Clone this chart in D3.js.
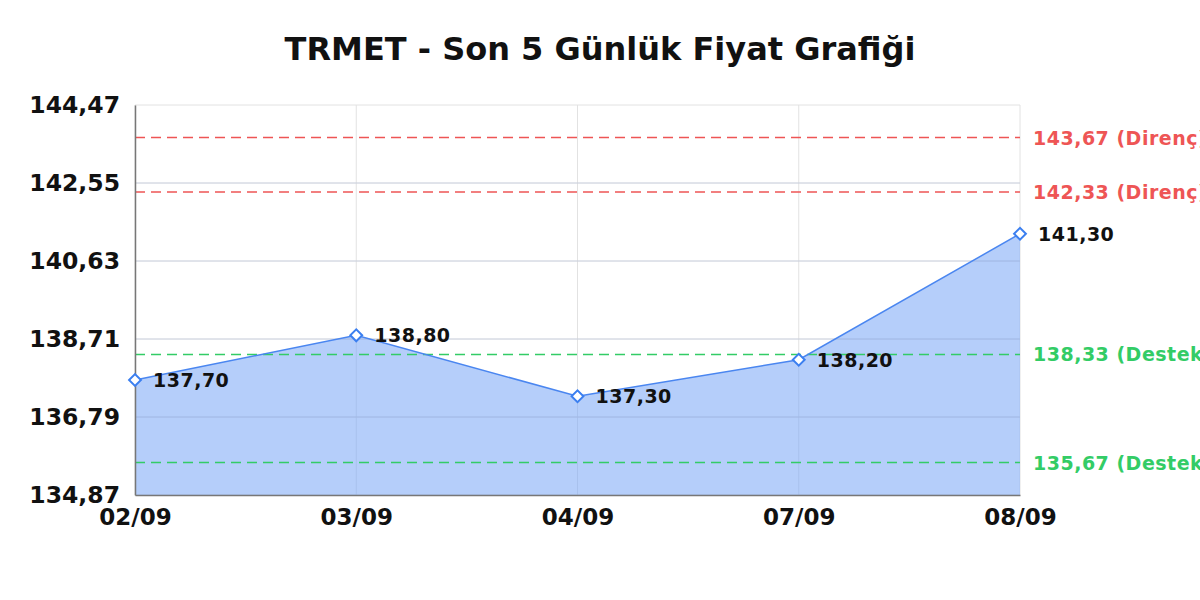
<!DOCTYPE html>
<html><head><meta charset="utf-8">
<script src="https://cdn.jsdelivr.net/npm/d3@7"></script>
<style>body{margin:0;background:#fff;}svg{display:block;font-family:"DejaVu Sans",sans-serif;}</style>
</head><body><svg id="c" width="1200" height="600"></svg>
<script>
const title = "TRMET - Son 5 Günlük Fiyat Grafiği";
const dates = ["02/09","03/09","04/09","07/09","08/09"];
const prices = [137.70,138.80,137.30,138.20,141.30];
const yTicks = [134.87,136.79,138.71,140.63,142.55,144.47];
const resistance = [143.67,142.33];
const support = [138.33,135.67];

const fmt = v => v.toFixed(2).replace(".", ",");
const svg = d3.select("#c");
const L=135,R=1020,T=105,B=495;
const x = d3.scalePoint().domain(dates).range([L,R]);
const y = d3.scaleLinear().domain([yTicks[0], yTicks[yTicks.length-1]]).range([B,T]);

svg.append("text").attr("x",600).attr("y",60).attr("text-anchor","middle")
  .attr("font-size",32).attr("font-weight","bold").attr("fill","#111").text(title);

// grid
const grid = svg.append("g");
grid.selectAll(".hg").data(yTicks).join("line")
  .attr("x1",L).attr("x2",R).attr("y1",d=>y(d)).attr("y2",d=>y(d))
  .attr("stroke","#e2e2e2").attr("stroke-width",1);
grid.selectAll(".vg").data(dates).join("line")
  .attr("x1",d=>x(d)).attr("x2",d=>x(d)).attr("y1",T).attr("y2",B)
  .attr("stroke","#e2e2e2").attr("stroke-width",1);

const pts = dates.map((d,i)=>({d, v:prices[i]}));
svg.append("path").datum(pts)
  .attr("d", d3.area().x(p=>x(p.d)).y0(B).y1(p=>y(p.v)))
  .attr("fill","rgba(120,165,245,0.55)");

// grid over area (faint)
svg.append("g").selectAll("line").data(yTicks.slice(1,-1)).join("line")
  .attr("x1",L).attr("x2",R).attr("y1",d=>y(d)).attr("y2",d=>y(d))
  .attr("stroke","rgba(150,170,210,0.35)");

// reference lines
const refs = resistance.map(v=>({v,c:"#ee5555",t:"Direnç"})).concat(support.map(v=>({v,c:"#33cc66",t:"Destek"})));
const rg = svg.append("g");
rg.selectAll("line").data(refs).join("line")
  .attr("x1",L).attr("x2",R).attr("y1",d=>y(d.v)).attr("y2",d=>y(d.v))
  .attr("stroke",d=>d.c).attr("stroke-width",1.5).attr("stroke-dasharray","10,6");
rg.selectAll("text").data(refs).join("text")
  .attr("x",1033).attr("y",d=>y(d.v)+7).attr("font-size",19).attr("font-weight","bold")
  .attr("letter-spacing",0.5)
  .attr("fill",d=>d.c).text(d=>`${fmt(d.v)} (${d.t})`);

svg.append("path").datum(pts)
  .attr("d", d3.line().x(p=>x(p.d)).y(p=>y(p.v)))
  .attr("fill","none").attr("stroke","#4a86f0").attr("stroke-width",1.5);

// axes
const ya = svg.append("g").attr("transform",`translate(${L},0)`)
  .call(d3.axisLeft(y).tickValues(yTicks).tickFormat(fmt).tickSize(0).tickPadding(15));
ya.select(".domain").attr("stroke","#777").attr("stroke-width",1.5);
ya.selectAll("text").attr("font-size",23.5).attr("font-weight","bold").attr("fill","#111")
  .attr("font-family","DejaVu Sans");
const xa = svg.append("g").attr("transform",`translate(0,${B})`)
  .call(d3.axisBottom(x).tickSize(0).tickPadding(14));
xa.select(".domain").attr("stroke","#777").attr("stroke-width",1.5);
xa.selectAll("text").attr("font-size",23).attr("font-weight","bold").attr("fill","#111")
  .attr("font-family","DejaVu Sans");

// markers
svg.append("g").selectAll("path").data(pts).join("path")
  .attr("transform",p=>`translate(${x(p.d)},${y(p.v)}) rotate(45)`)
  .attr("d", d3.symbol().type(d3.symbolSquare).size(70))
  .attr("fill","#fff").attr("stroke","#3b7ff0").attr("stroke-width",2);

svg.append("g").selectAll("text").data(pts).join("text")
  .attr("x",p=>x(p.d)+18).attr("y",p=>y(p.v)+7)
  .attr("font-size",19).attr("font-weight","bold").attr("fill","#111")
  .attr("letter-spacing",0.5)
  .text(p=>fmt(p.v));
</script></body></html>
